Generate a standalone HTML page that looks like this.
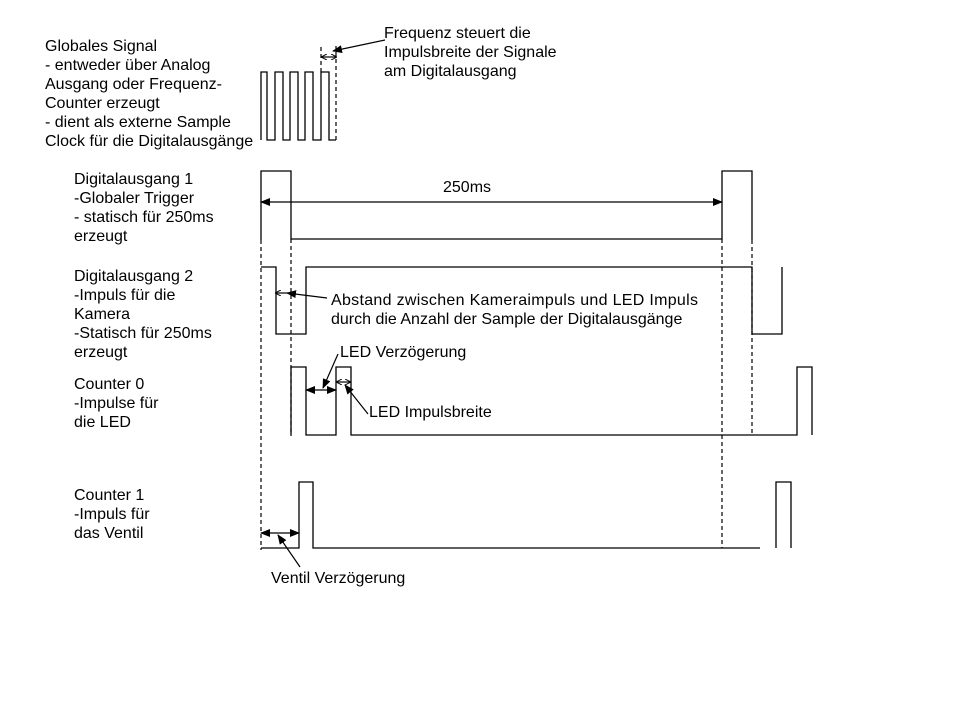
<!DOCTYPE html>
<html><head><meta charset="utf-8"><style>
html,body{margin:0;padding:0;background:#fff;}
svg{display:block}
text{font-family:"Liberation Sans",Arial,sans-serif;font-size:16px;fill:#000}
</style></head><body>
<svg width="960" height="720" viewBox="0 0 960 720" xmlns="http://www.w3.org/2000/svg">
<defs>
<marker id="a" markerWidth="10" markerHeight="8" refX="9" refY="4" orient="auto-start-reverse" markerUnits="userSpaceOnUse"><path d="M0,0 L10,4 L0,8 z" fill="#000"/></marker>
<marker id="s" markerWidth="6" markerHeight="6" refX="5" refY="3" orient="auto-start-reverse" markerUnits="userSpaceOnUse"><path d="M0,0 L6,3 L0,6" fill="none" stroke="#000" stroke-width="1"/></marker>
</defs>
<g fill="none" stroke="#000" stroke-width="1.3">
<polyline points="261,140 261,72 267,72 267,140 275,140 275,72 283,72 283,140 290,140 290,72 298,72 298,140 305,140 305,72 313,72 313,140 321,140 321,72 329,72 329,140 336,140"/>
<polyline points="261,240 261,171 291,171 291,239 722,239 722,171 752,171 752,240"/>
<polyline points="261,267 276,267 276,334 306,334 306,267 752,267 752,334 782,334 782,267"/>
<polyline points="291,435 291,367 306,367 306,435 336,435 336,367 351,367 351,435 797,435 797,367 812,367 812,435"/>
<polyline points="261,548 299,548 299,482 313,482 313,548 760,548"/>
<polyline points="776,548 776,482 791,482 791,548"/>
</g>
<g stroke="#000" stroke-width="1.2" stroke-dasharray="4,3" fill="none">
<line x1="321" y1="72" x2="321" y2="46"/>
<line x1="336" y1="140" x2="336" y2="46"/>
<line x1="261" y1="240" x2="261" y2="550"/>
<line x1="291" y1="239" x2="291" y2="436"/>
<line x1="722" y1="239" x2="722" y2="548"/>
<line x1="752" y1="240" x2="752" y2="435"/>
</g>
<g stroke="#000" stroke-width="1.2" fill="none">
<line x1="322" y1="57" x2="336" y2="57" marker-start="url(#s)" marker-end="url(#s)"/>
<line x1="385" y1="40" x2="333" y2="51" marker-end="url(#a)"/>
<line x1="261" y1="202" x2="722" y2="202" marker-start="url(#a)" marker-end="url(#a)"/>
<line x1="276" y1="293" x2="291" y2="293" marker-start="url(#s)"/>
<line x1="327" y1="298" x2="287" y2="293" marker-end="url(#a)"/>
<line x1="306" y1="390" x2="336" y2="390" marker-start="url(#a)" marker-end="url(#a)"/>
<line x1="338" y1="354" x2="323" y2="388" marker-end="url(#a)"/>
<line x1="337" y1="382" x2="350" y2="382" marker-start="url(#s)" marker-end="url(#s)"/>
<line x1="368" y1="414" x2="345" y2="385" marker-end="url(#a)"/>
<line x1="261" y1="533" x2="299" y2="533" marker-start="url(#a)" marker-end="url(#a)"/>
<line x1="300" y1="567" x2="278" y2="535" marker-end="url(#a)"/>
</g>
<g>
<text x="45" y="51">Globales Signal</text>
<text x="45" y="70">- entweder über Analog</text>
<text x="45" y="89">Ausgang oder Frequenz-</text>
<text x="45" y="108">Counter erzeugt</text>
<text x="45" y="127">- dient als externe Sample</text>
<text x="45" y="146">Clock für die Digitalausgänge</text>
<text x="384" y="38">Frequenz steuert die</text>
<text x="384" y="57">Impulsbreite der Signale</text>
<text x="384" y="76">am Digitalausgang</text>
<text x="74" y="184">Digitalausgang 1</text>
<text x="74" y="203">-Globaler Trigger</text>
<text x="74" y="222">- statisch für 250ms</text>
<text x="74" y="241">erzeugt</text>
<text x="443" y="192">250ms</text>
<text x="74" y="281">Digitalausgang 2</text>
<text x="74" y="300">-Impuls für die</text>
<text x="74" y="319">Kamera</text>
<text x="74" y="338">-Statisch für 250ms</text>
<text x="74" y="357">erzeugt</text>
<text x="331" y="305" textLength="367" lengthAdjust="spacing">Abstand zwischen Kameraimpuls und LED Impuls</text>
<text x="331" y="324">durch die Anzahl der Sample der Digitalausgänge</text>
<text x="340" y="357">LED Verzögerung</text>
<text x="74" y="389">Counter 0</text>
<text x="74" y="408">-Impulse für</text>
<text x="74" y="427">die LED</text>
<text x="369" y="417">LED Impulsbreite</text>
<text x="74" y="500">Counter 1</text>
<text x="74" y="519">-Impuls für</text>
<text x="74" y="538">das Ventil</text>
<text x="271" y="583">Ventil Verzögerung</text>
</g>
</svg>
</body></html>
